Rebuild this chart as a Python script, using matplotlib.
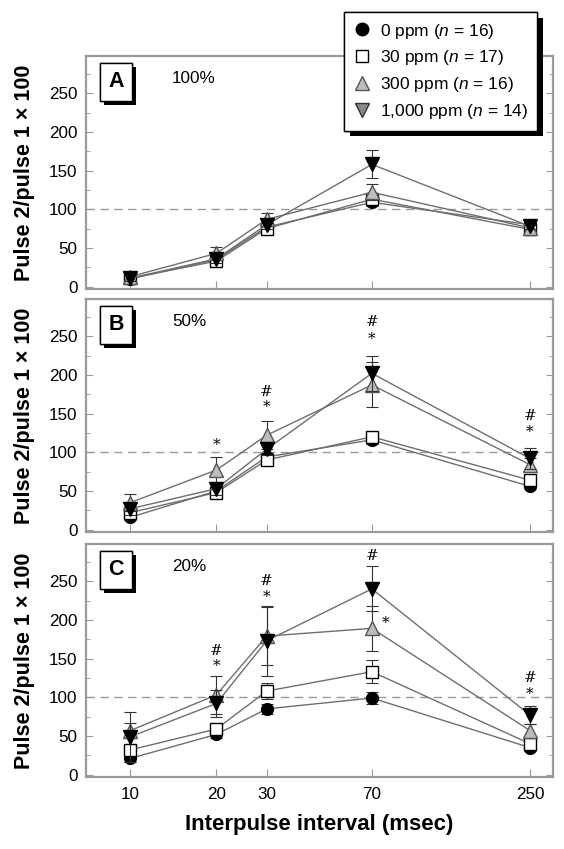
import matplotlib
matplotlib.use("Agg")
import matplotlib.pyplot as plt
import matplotlib.patheffects as pe
from matplotlib.lines import Line2D
from matplotlib.ticker import FixedLocator, NullFormatter, NullLocator, MultipleLocator

plt.rcParams['font.family'] = ['Liberation Sans', 'DejaVu Sans']
plt.rcParams['mathtext.fontset'] = 'custom'
plt.rcParams['mathtext.it'] = 'Liberation Sans:italic'
plt.rcParams['mathtext.rm'] = 'Liberation Sans'

# interpulse interval (msec)
intervals = [10, 20, 30, 70, 250]
groups = ["0 ppm ($n$ = 16)", "30 ppm ($n$ = 17)", "300 ppm ($n$ = 16)", "1,000 ppm ($n$ = 14)"]
panels = ["A", "B", "C"]
intensities = ["100%", "50%", "20%"]

# panel A (100%)
a_0 = [10, 35, 77, 109, 80]
a_30 = [11, 33, 75, 113, 74]
a_300 = [13, 43, 87, 122, 76]
a_1000 = [11, 36, 80, 158, 78]
a_err_0 = [3, 4, 4, 5, 4]
a_err_30 = [3, 5, 5, 6, 4]
a_err_300 = [4, 8, 8, 10, 4]
a_err_1000 = [4, 6, 6, 18, 4]

# panel B (50%)
b_0 = [16, 50, 94, 116, 56]
b_30 = [22, 48, 90, 120, 64]
b_300 = [35, 77, 122, 187, 84]
b_1000 = [27, 53, 104, 202, 92]
b_err_0 = [4, 4, 5, 5, 4]
b_err_30 = [4, 4, 5, 6, 4]
b_err_300 = [11, 17, 18, 29, 8]
b_err_1000 = [8, 8, 8, 23, 14]

# panel C (20%)
c_0 = [21, 52, 85, 99, 35]
c_30 = [32, 59, 108, 133, 40]
c_300 = [57, 103, 179, 189, 57]
c_1000 = [49, 92, 173, 240, 77]
c_err_0 = [4, 4, 6, 8, 4]
c_err_30 = [5, 8, 10, 15, 5]
c_err_300 = [10, 25, 37, 29, 8]
c_err_1000 = [32, 17, 45, 29, 12]

# significance marks: (x, y, symbol)
b_marks = [(20, 110, '*'), (30, 158, '*'), (30, 178, '#'), (70, 246, '*'), (70, 268, '#'),
           (250, 126, '*'), (250, 147, '#')]
c_marks = [(20, 140, '*'), (20, 160, '#'), (30, 229, '*'), (30, 250, '#'), (70, 282, '#'),
           (78, 196, '*'), (250, 104, '*'), (250, 125, '#')]

data = [
    ([a_0, a_30, a_300, a_1000], [a_err_0, a_err_30, a_err_300, a_err_1000], []),
    ([b_0, b_30, b_300, b_1000], [b_err_0, b_err_30, b_err_300, b_err_1000], b_marks),
    ([c_0, c_30, c_300, c_1000], [c_err_0, c_err_30, c_err_300, c_err_1000], c_marks),
]

styles = [
    dict(marker='o', mfc='black', mec='black', ms=8.5),
    dict(marker='s', mfc='white', mec='black', ms=8),
    dict(marker='^', mfc='#bdbdbd', mec='#555555', ms=9.5),
    dict(marker='v', mfc='black', mec='black', ms=9.5),
]

W, H = 564, 849
fig = plt.figure(figsize=(W / 100, H / 100), dpi=100)
tops = [56, 299, 544]
ph = 233
gray = '#9a9a9a'

for k, (series, errs, marks) in enumerate(data):
    top = tops[k]
    ax = fig.add_axes([86 / W, 1 - (top + ph) / H, 467 / W, ph / H])
    ax.set_xscale('log')
    ax.set_xlim(7, 301)
    ax.set_ylim(-3, 298)
    ax.axhline(100, color=gray, lw=1, ls=(0, (6, 4)), zorder=1)
    for i in range(4):
        ax.errorbar(intervals, series[i], yerr=errs[i], color='#6e6e6e', lw=1,
                    ecolor='#333333', elinewidth=0.8, capsize=4, capthick=0.8,
                    zorder=3 + i, **styles[i])
    for xv, yv, s in marks:
        ax.text(xv, yv, s, ha='center', va='center', fontsize=11,
                family=['DejaVu Serif'], style='italic' if s == '#' else 'normal')

    ax.xaxis.set_major_locator(FixedLocator(intervals))
    ax.xaxis.set_minor_locator(NullLocator())
    if k == 2:
        ax.set_xticklabels([str(v) for v in intervals])
        ax.set_xlabel('Interpulse interval (msec)', fontsize=16, fontweight='bold', labelpad=9)
    else:
        ax.xaxis.set_major_formatter(NullFormatter())
    ax.yaxis.set_major_locator(MultipleLocator(50))
    ax.yaxis.set_minor_locator(MultipleLocator(25))
    ax.set_yticks([0, 50, 100, 150, 200, 250])
    ax.tick_params(axis='both', which='both', direction='in', color=gray, labelsize=12.3)
    ax.tick_params(axis='y', which='both', right=True)
    ax.tick_params(axis='y', which='major', length=5, pad=6)
    ax.tick_params(axis='y', which='minor', length=3)
    ax.tick_params(axis='x', which='major', length=6, pad=7)
    for sp in ax.spines.values():
        sp.set_color(gray)
        sp.set_linewidth(1.6)
    ax.set_ylabel('Pulse 2/pulse 1 \u00d7 100', fontsize=15.5, fontweight='bold', labelpad=10)

    t = ax.text(0.064, 0.89, panels[k], transform=ax.transAxes, ha='center', va='center',
                fontsize=15.5, fontweight='bold',
                bbox=dict(boxstyle='square,pad=0.4', fc='white', ec='black', lw=1))
    t.get_bbox_patch().set_path_effects([pe.withSimplePatchShadow(offset=(3, -3),
                                         shadow_rgbFace='black', alpha=1), pe.Normal()])
    ax.text(0.184, 0.905, intensities[k], transform=ax.transAxes, ha='left', va='center',
            fontsize=12.3)

handles = [Line2D([], [], ls='none', marker='o', mfc='black', mec='black', ms=9),
           Line2D([], [], ls='none', marker='s', mfc='white', mec='black', ms=8),
           Line2D([], [], ls='none', marker='^', mfc='#bdbdbd', mec='#555555', ms=10),
           Line2D([], [], ls='none', marker='v', mfc='#888888', mec='#333333', ms=10)]
leg = fig.legend(handles, groups, loc='upper left', bbox_to_anchor=(344 / W, 1 - 12 / H),
                 fontsize=12.5, frameon=True, fancybox=False, edgecolor='black',
                 facecolor='white', framealpha=1,
                 handlelength=1.0, handletextpad=0.5, labelspacing=0.45, borderpad=0.55,
                 borderaxespad=0)
leg.get_frame().set_linewidth(1)
leg.get_frame().set_path_effects([pe.withSimplePatchShadow(offset=(4, -4),
                                  shadow_rgbFace='black', alpha=1), pe.Normal()])
leg.set_zorder(20)

fig.savefig('out.png', dpi=100)
